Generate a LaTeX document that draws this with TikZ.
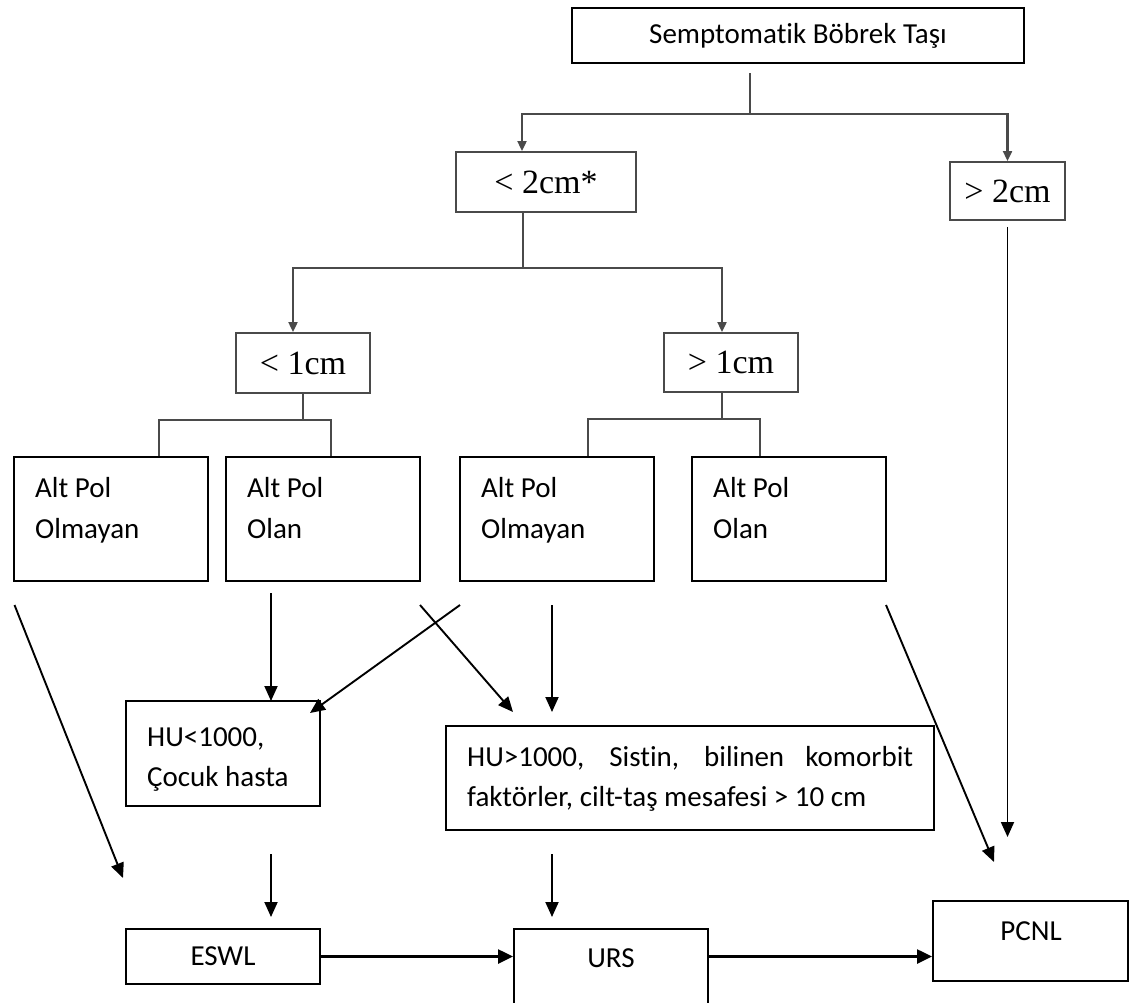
\documentclass[tikz,border=0pt]{standalone}
\usepackage{fontspec}
\setmainfont{Carlito}[Ligatures=NoCommon]
\newfontfamily\tmsfont{Liberation Serif}
\usetikzlibrary{arrows.meta}
\definecolor{lg}{HTML}{4A4A4A}
\newcommand\calsz{\fontsize{29}{41}\selectfont}
\newcommand\tmssz{\tmsfont\fontsize{34}{38}\selectfont}
\begin{document}
\begin{tikzpicture}[x=1pt,y=-1pt,
  cbox/.style={draw=black, line width=1.9pt, rectangle, inner sep=0pt},
  sbox/.style={draw=lg, line width=1.9pt, rectangle, inner sep=0pt, font=\tmssz},
  txt/.style={inner sep=0pt, anchor=base west},
  conn/.style={draw=lg, line width=2.1pt},
  garrow/.style={conn, -{Triangle[length=10pt,width=9pt]}},
  barrow/.style={draw=black, line width=1.9pt, -{Triangle[length=15pt,width=13pt]}},
  harrow/.style={draw=black, line width=2.4pt, -{Triangle[length=15pt,width=14pt]}}]
\useasboundingbox (0,0) rectangle (1139,1002);

% boxes
\node[cbox, minimum width=452pt, minimum height=55pt] (top) at (798,35.5) {\calsz Semptomatik Böbrek Taşı};
\node[sbox, minimum width=180pt, minimum height=60pt] (lt2) at (546,182) {< 2cm*};
\node[sbox, minimum width=115pt, minimum height=58pt] (gt2) at (1007.5,191) {> 2cm};
\node[sbox, minimum width=134pt, minimum height=60pt] (lt1) at (303,363) {< 1cm};
\node[sbox, minimum width=134pt, minimum height=59pt] (gt1) at (731,362.5) {> 1cm};

\node[cbox, minimum width=194pt, minimum height=124pt] (b1) at (111,519) {};
\node[cbox, minimum width=194pt, minimum height=124pt] (b2) at (323,519) {};
\node[cbox, minimum width=194pt, minimum height=124pt] (b3) at (557,519) {};
\node[cbox, minimum width=194pt, minimum height=124pt] (b4) at (789,519) {};
\node[txt] (t1) at (35,497) {\calsz\parbox[t]{180pt}{Alt Pol\\Olmayan}};
\node[txt] (t2) at (247,497) {\calsz\parbox[t]{170pt}{Alt Pol\\Olan}};
\node[txt] (t3) at (481,497) {\calsz\parbox[t]{170pt}{Alt Pol\\Olmayan}};
\node[txt] (t4) at (713,497) {\calsz\parbox[t]{170pt}{Alt Pol\\Olan}};

\node[cbox, minimum width=194pt, minimum height=105pt] (hu1) at (223,753.5) {};
\node[txt] (t5) at (147,746) {\parbox[t]{170pt}{\fontsize{29}{40}\selectfont HU<1000,\\Çocuk hasta}};
\node[cbox, minimum width=488pt, minimum height=104pt] (hu2) at (690,778) {};
\node[txt] (t6) at (467,766) {\parbox[t]{446pt}{\fontsize{29}{40}\selectfont\makebox[446pt][s]{HU>1000, Sistin, bilinen komorbit}\\faktörler, cilt-taş mesafesi > 10 cm}};

\node[cbox, minimum width=194pt, minimum height=55pt] (eswl) at (223,956.5) {\calsz ESWL};
\node[cbox, minimum width=194pt, minimum height=91pt] (urs) at (611,974.5) {};
\node[txt, anchor=base] (turs) at (611,967) {\calsz URS};
\node[cbox, minimum width=195pt, minimum height=80pt] (pcnl) at (1030.5,941) {};
\node[txt, anchor=base] (tpcnl) at (1031,940) {\calsz PCNL};

% junctions
\coordinate (j0a) at (750,73);
\coordinate (j0) at (750,114);
\coordinate (j1) at (523,268);
\coordinate (j2) at (303,420);
\coordinate (j3) at (722,419);

\draw[conn] (j0a) -- (j0);
\draw[garrow] (j0) -| ([xshift=-24pt]lt2.north);
\draw[garrow] (j0) -| (gt2.north);
\draw[conn] ([xshift=-23pt]lt2.south) -- (j1);
\draw[garrow] (j1) -| ([xshift=-10pt]lt1.north);
\draw[garrow] (j1) -| ([xshift=-9pt]gt1.north);
\draw[conn] (lt1.south) -- (j2);
\draw[conn] ([xshift=48pt]b1.north) |- (j2) -| ([xshift=8pt]b2.north);
\draw[conn] ([xshift=-9pt]gt1.south) -- (j3);
\draw[conn] ([xshift=31pt]b3.north) |- (j3) -| ([xshift=-29pt]b4.north);

% free ends
\coordinate (s1) at (14.5,605);   \coordinate (e1) at (123,878);
\coordinate (s2) at (271,593);    \coordinate (e2) at (271,701);
\coordinate (s3) at (460,605);    \coordinate (e3) at (310,713);
\coordinate (s4) at (420,605);    \coordinate (e4) at (513,712);
\coordinate (s5) at (552,605);    \coordinate (e5) at (552,712);
\coordinate (s6) at (886,605);    \coordinate (e6) at (994,862);
\coordinate (e7) at (1007.5,837);
\coordinate (s8) at (271,854);    \coordinate (e8) at (271,917);
\coordinate (s9) at (552,854);    \coordinate (e9) at (552,917);

\draw[barrow] (s1) -- (e1);
\draw[barrow] (s2) -- (e2);
\draw[barrow] (s3) -- (e3);
\draw[barrow] (s4) -- (e4);
\draw[barrow] (s5) -- (e5);
\draw[barrow] (s6) -- (e6);
\draw[barrow] ([yshift=-6pt]gt2.south) -- (e7);
\draw[barrow] (s8) -- (e8);
\draw[barrow] (s9) -- (e9);
\draw[harrow] (eswl.east) -- (eswl.east -| urs.west);
\draw[harrow] (urs.east |- eswl.east) -- (pcnl.west |- eswl.east);
\end{tikzpicture}
\end{document}
